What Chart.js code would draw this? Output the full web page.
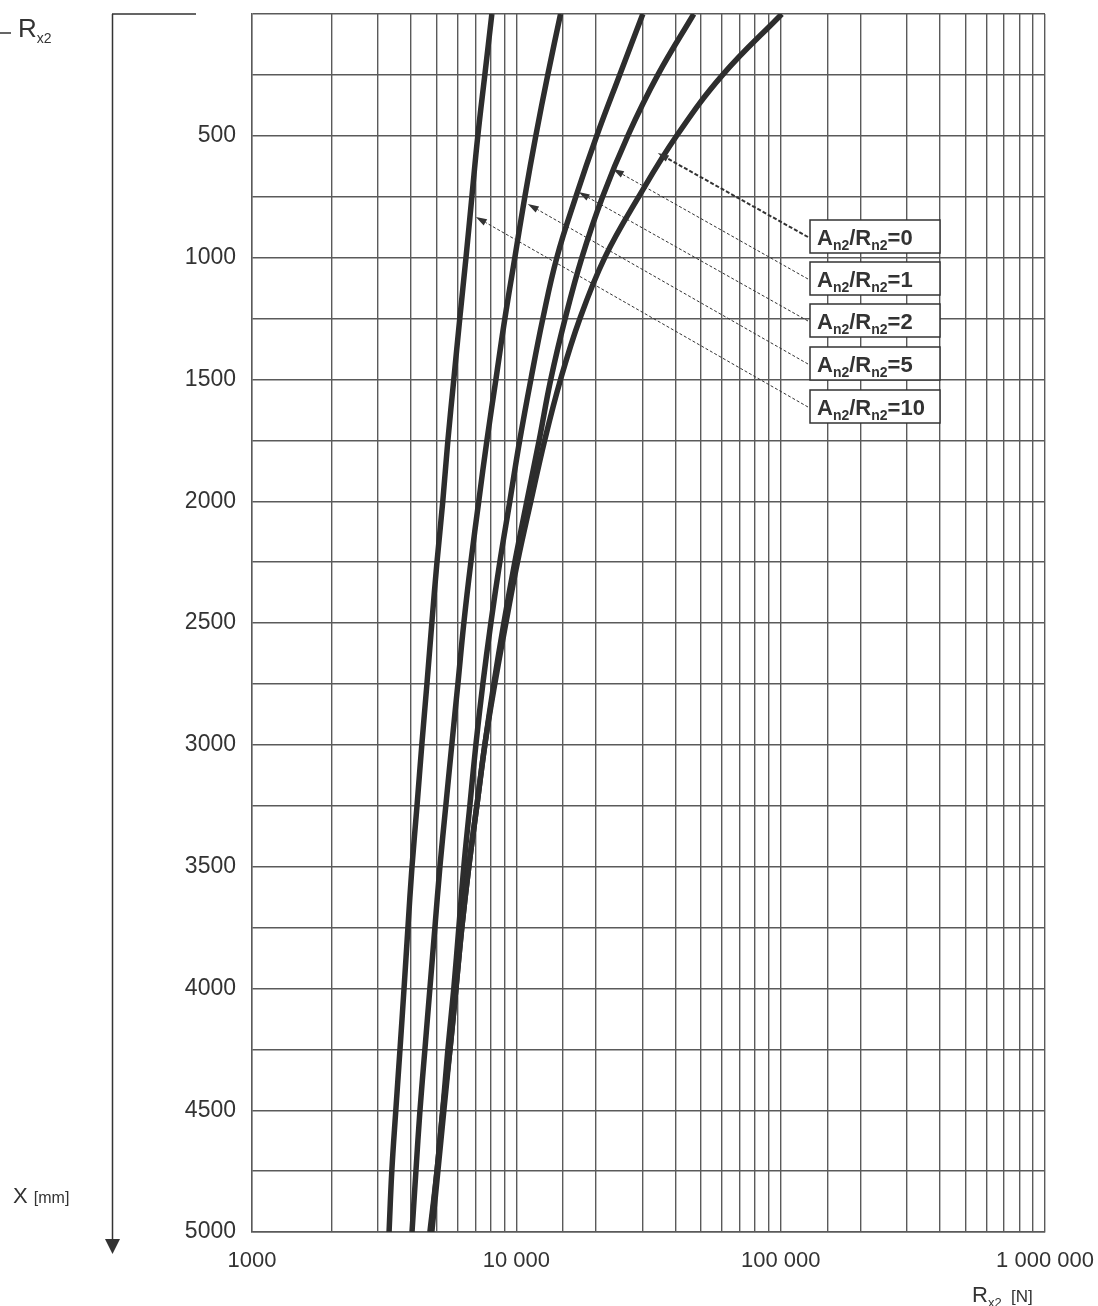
<!DOCTYPE html>
<html lang="en">
  <head>
    <meta charset="UTF-8" />
    <meta name="viewport" content="width=device-width, initial-scale=1.0" />
    <title>Rx2 against X for several An2/Rn2</title>
    <script src="https://cdn.jsdelivr.net/npm/chart.js"></script>
    <style>
      html, body { margin: 0; padding: 0; background: #fff; }
      .chart-card { width: 1098px; height: 1306px; position: relative; }
    </style>
  </head>
  <body>
    <div class="chart-card">
      <canvas id="rxChart"></canvas>
    </div>

    <script>
      // depth X [mm] where the curves were read
      const depths = [0, 250, 500, 750, 1000, 1250, 1500, 1750, 2000, 2250, 2500,
                      2750, 3000, 3250, 3500, 3750, 4000, 4250, 4500, 4750, 5000];

      // Rx2 [N] for each An2/Rn2 ratio
      const rxRatio0 = [101000, 60300, 40400, 29050, 21600, 17400, 14700, 12800, 11350, 10100, 9130,
                        8290, 7600, 7090, 6610, 6220, 5910, 5610, 5270, 5010, 4710];
      const rxRatio1 = [46900, 34300, 26400, 21200, 17700, 15300, 13500, 12200, 10960, 9870, 8970,
                        8220, 7600, 7090, 6610, 6220, 5910, 5610, 5320, 5050, 4790];
      const rxRatio2 = [30100, 24600, 20150, 16800, 14230, 12600, 11350, 10300, 9450, 8660, 8010,
                        7470, 7030, 6670, 6330, 6060, 5800, 5510, 5270, 5010, 4750];
      const rxRatio5 = [14700, 13150, 11850, 10770, 9870, 9050, 8370, 7740, 7210, 6730, 6330,
                        6010, 5700, 5410, 5140, 4920, 4710, 4510, 4320, 4170, 4030];
      const rxRatio10 = [8080, 7600, 7150, 6790, 6450, 6110, 5800, 5510, 5270, 5010, 4790,
                         4590, 4390, 4210, 4030, 3890, 3760, 3630, 3500, 3380, 3300];

      const ratios = ['0', '1', '2', '5', '10'];
      const seriesList = [rxRatio0, rxRatio1, rxRatio2, rxRatio5, rxRatio10];

      // x tick labels (decades only)
      const decadeTicks = [1000, 10000, 100000, 1000000];
      const decadeLabels = ['1000', '10 000', '100 000', '1 000 000'];

      // where each label arrow lands on its curve (Rx2, X)
      const arrowTipRx = [34300, 23200, 17200, 11050, 7030];
      const arrowTipDepth = [571, 636, 731, 780, 833];

      const INK = '#333';
      const GRID = '#5a5a5a';
      const FONT = '"Liberation Sans", Arial, sans-serif';

      // draw text made of several runs (for subscripts)
      function drawParts(ctx, parts, x, y) {
        parts.forEach(p => {
          ctx.font = p.font;
          ctx.fillText(p.text, x, y + (p.dy || 0));
          x += ctx.measureText(p.text).width;
        });
        return x;
      }

      function arrowLine(ctx, x0, y0, x1, y1, width, dash) {
        ctx.save();
        ctx.strokeStyle = INK;
        ctx.fillStyle = INK;
        ctx.lineWidth = width;
        ctx.setLineDash(dash);
        const a = Math.atan2(y1 - y0, x1 - x0);
        const hx = x1 - 11 * Math.cos(a), hy = y1 - 11 * Math.sin(a);
        ctx.beginPath();
        ctx.moveTo(x0, y0);
        ctx.lineTo(hx, hy);
        ctx.stroke();
        ctx.setLineDash([]);
        ctx.beginPath();
        ctx.moveTo(x1, y1);
        ctx.lineTo(hx + 3.5 * Math.sin(a), hy - 3.5 * Math.cos(a));
        ctx.lineTo(hx - 3.5 * Math.sin(a), hy + 3.5 * Math.cos(a));
        ctx.closePath();
        ctx.fill();
        ctx.restore();
      }

      const overlayPlugin = {
        id: 'overlay',
        afterDraw(chart) {
          const ctx = chart.ctx;
          const xs = chart.scales.x, ys = chart.scales.y;
          ctx.save();
          ctx.fillStyle = INK;
          ctx.strokeStyle = INK;
          ctx.textBaseline = 'alphabetic';
          ctx.textAlign = 'left';

          // left depth arrow
          ctx.lineWidth = 1.5;
          ctx.beginPath();
          ctx.moveTo(112.5, 14); ctx.lineTo(112.5, 1241);
          ctx.moveTo(112, 14); ctx.lineTo(196, 14);
          ctx.moveTo(0, 33); ctx.lineTo(11, 33);
          ctx.stroke();
          ctx.beginPath();
          ctx.moveTo(105, 1239); ctx.lineTo(120, 1239); ctx.lineTo(112.5, 1254);
          ctx.closePath();
          ctx.fill();

          drawParts(ctx, [
            { text: 'R', font: '26px ' + FONT },
            { text: 'x2', font: '14px ' + FONT, dy: 6 }
          ], 18, 37);
          drawParts(ctx, [
            { text: 'X ', font: '22px ' + FONT },
            { text: '[mm]', font: '16px ' + FONT }
          ], 13, 1203);
          drawParts(ctx, [
            { text: 'R', font: '22px ' + FONT },
            { text: 'x2', font: '13px ' + FONT, dy: 5 },
            { text: '  [N]', font: '17px ' + FONT }
          ], 972, 1302);

          // label boxes with arrows
          const boxLeft = 810, boxW = 130, boxH = 33;
          const boxTops = [220, 262, 304, 347, 390];
          ratios.forEach((r, i) => {
            const top = boxTops[i];
            const tx = xs.getPixelForValue(arrowTipRx[i]);
            const ty = ys.getPixelForValue(arrowTipDepth[i]);
            arrowLine(ctx, boxLeft - 2, top + 17, tx, ty,
                      i === 0 ? 2 : 1, i === 0 ? [4, 2] : [3, 2]);
            ctx.fillStyle = '#fff';
            ctx.fillRect(boxLeft, top, boxW, boxH);
            ctx.lineWidth = 1.5;
            ctx.strokeStyle = INK;
            ctx.strokeRect(boxLeft, top, boxW, boxH);
            ctx.fillStyle = INK;
            drawParts(ctx, [
              { text: 'A', font: 'bold 22px ' + FONT },
              { text: 'n2', font: 'bold 14px ' + FONT, dy: 5 },
              { text: '/R', font: 'bold 22px ' + FONT },
              { text: 'n2', font: 'bold 14px ' + FONT, dy: 5 },
              { text: '=' + r, font: 'bold 22px ' + FONT }
            ], boxLeft + 7, top + 25);
          });
          ctx.restore();
        }
      };

      const datasets = seriesList.map((s, i) => ({
        label: 'An2/Rn2=' + ratios[i],
        data: depths.map((d, k) => ({ x: s[k], y: d })),
        showLine: true,
        borderColor: '#2d2d2d',
        borderWidth: 5.5,
        pointRadius: 0,
        tension: 0.4,
        fill: false
      }));

      new Chart(document.getElementById('rxChart').getContext('2d'), {
        type: 'scatter',
        data: { datasets },
        options: {
          responsive: true,
          maintainAspectRatio: false,
          animation: false,
          layout: { padding: { top: 14, right: 53, bottom: 0, left: 0 } },
          plugins: { legend: { display: false }, tooltip: { enabled: false } },
          scales: {
            x: {
              type: 'logarithmic',
              min: 1000,
              max: 1000000,
              afterFit: scale => {
                scale.height = 74;
                scale.paddingLeft = 0;
                scale.paddingRight = 0;
              },
              grid: { color: GRID, lineWidth: 1.4, drawTicks: false },
              border: { color: GRID, width: 1.4 },
              ticks: {
                autoSkip: false,
                maxRotation: 0,
                padding: 16,
                color: INK,
                font: { family: FONT, size: 22 },
                callback: v => {
                  const k = decadeTicks.indexOf(Math.round(v));
                  return k >= 0 ? decadeLabels[k] : '';
                }
              }
            },
            y: {
              type: 'linear',
              reverse: true,
              min: 0,
              max: 5000,
              afterFit: scale => {
                scale.width = 252;
                scale.paddingTop = 0;
                scale.paddingBottom = 0;
              },
              grid: { color: GRID, lineWidth: 1.4, drawTicks: false },
              border: { color: GRID, width: 1.4 },
              ticks: {
                stepSize: 250,
                padding: 16,
                color: INK,
                font: { family: FONT, size: 23 },
                callback: v => (v > 0 && v % 500 === 0) ? String(v) : ''
              }
            }
          }
        },
        plugins: [overlayPlugin]
      });
    </script>
  </body>
</html>
